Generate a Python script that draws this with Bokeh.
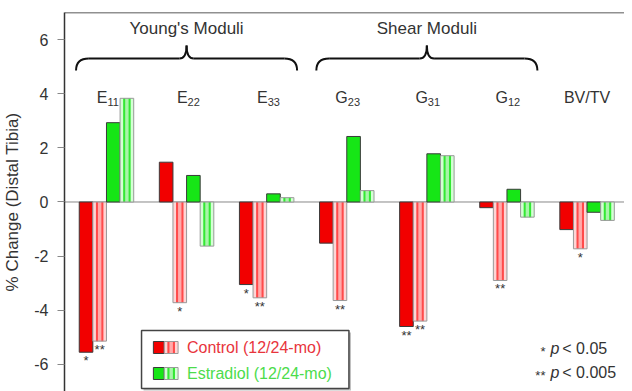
from bokeh.plotting import figure
from bokeh.models import ColumnDataSource, FixedTicker, Span, Range1d, Label
from bokeh.embed import file_html
from bokeh.resources import INLINE
from bokeh.core.properties import value

# ---------------- data ----------------
categories = ["E11", "E22", "E33", "G23", "G31", "G12", "BV/TV"]
cat_main = ["E", "E", "E", "G", "G", "G", "BV/TV"]
cat_sub = ["11", "22", "33", "23", "31", "12", ""]

control_12 = [-5.55, 1.47, -3.05, -1.52, -4.60, -0.21, -1.02]
control_24 = [-5.14, -3.72, -3.54, -3.64, -4.40, -2.90, -1.73]
estradiol_12 = [2.93, 0.98, 0.30, 2.42, 1.78, 0.47, -0.38]
estradiol_24 = [3.83, -1.63, 0.16, 0.42, 1.71, -0.56, -0.68]

control_12_sig = ["*", "", "*", "", "**", "", ""]
control_24_sig = ["**", "*", "**", "**", "**", "**", "*"]

y_ticks = [-6, -4, -2, 0, 2, 4, 6]
y_tick_labels = ["-6", "-4", "-2", "0", "2", "4", "6"]
group_headers = ["Young's Moduli", "Shear Moduli"]
group_spans = [(0, 2), (3, 5)]
legend_labels = ["Control (12/24-mo)", "Estradiol (12/24-mo)"]
pvalue_marks = ["*", "**"]
pvalue_texts = ["< 0.05", "< 0.005"]

# ---------------- styles / layout ----------------
RED = "#f20000"
RED_PALE = "#ffd4d4"
RED_MID = "#ffaaaa"
RED_STRIPE = "#ff4a4a"
GREEN = "#16e616"
GREEN_PALE = "#d4ffd4"
GREEN_MID = "#a8f5a8"
GREEN_STRIPE = "#33e833"
TXT = "#333333"
FONT = "Liberation Sans"

PX_PER_X, PX_PER_Y = 81.1, 27.07
FRAME_H = 379
X_START, Y_END = -0.024, 7.0
Y_START = Y_END - FRAME_H / PX_PER_Y
X_END = X_START + 567 / PX_PER_X
W = 0.17


def dx(px):
    return X_START + (px - 65) / PX_PER_X


def dy(py):
    return Y_END - (py - 12) / PX_PER_Y


p = figure(width=624, height=391, x_range=Range1d(X_START, X_END),
           y_range=Range1d(Y_START, Y_END), output_backend="svg",
           toolbar_location=None, x_axis_location=None,
           min_border_left=57, min_border_right=0, min_border_top=12,
           min_border_bottom=0)
p.outline_line_color = None
p.grid.visible = False
p.background_fill_color = "white"

ax = p.yaxis[0]
ax.ticker = FixedTicker(ticks=y_ticks)
ax.major_label_overrides = {t: lab for t, lab in zip(y_ticks, y_tick_labels)}
ax.major_tick_in = 0
ax.major_tick_out = 7
ax.minor_tick_line_color = None
ax.major_tick_line_color = "#888888"
ax.axis_line_color = "#333333"
ax.axis_line_width = 1.5
ax.major_label_standoff = 9
ax.major_label_text_font = FONT
ax.major_label_text_font_size = "16px"
ax.major_label_text_color = TXT
ax.axis_label = "% Change (Distal Tibia)"
ax.axis_label_text_font = FONT
ax.axis_label_text_font_size = "17px"
ax.axis_label_text_font_style = "normal"
ax.axis_label_text_color = TXT
ax.axis_label_standoff = 9

p.add_layout(Span(location=0, dimension="width", line_color="#888888",
                  line_width=1, level="underlay"))
p.add_layout(Span(location=Y_END, dimension="width", line_color="#222222",
                  line_width=1.5))

centers = [i + 0.5 for i in range(len(categories))]
offsets = [-1.5 * W, -0.5 * W, 0.5 * W, 1.5 * W]


def xs(k):
    return [c + offsets[k] for c in centers]


def solid(xv, top, bottom, color, width=W):
    p.vbar(x=xv, top=top, bottom=bottom, width=width, fill_color=color,
           line_color="#3a3a3a", line_width=1)


def striped(xv, top, bottom, pale, mid, stripe, width=W):
    p.vbar(x=xv, top=top, bottom=bottom, width=width, fill_color=pale,
           line_color=None)
    p.vbar(x=xv, top=top, bottom=bottom, width=0.4 * width, fill_color=mid,
           line_color=None)
    for s in (-0.2, 0.2):
        p.vbar(x=[x + s * width for x in xv], top=top, bottom=bottom,
               width=0.15 * width, fill_color=stripe, line_color=None)
    p.vbar(x=xv, top=top, bottom=bottom, width=width, fill_color=None,
           line_color="#999999", line_width=1)


zeros = [0] * len(categories)
solid(xs(0), control_12, zeros, RED)
striped(xs(1), control_24, zeros, RED_PALE, RED_MID, RED_STRIPE)
solid(xs(2), estradiol_12, zeros, GREEN)
striped(xs(3), estradiol_24, zeros, GREEN_PALE, GREEN_MID, GREEN_STRIPE)

# significance marks
sig_src = ColumnDataSource(dict(
    x=xs(0) + xs(1), y=control_12 + control_24,
    t=control_12_sig + control_24_sig))
p.text(x="x", y="y", text="t", source=sig_src, text_align="center",
       text_baseline="top", y_offset=1, text_font=value(FONT),
       text_font_size="13px", text_color=TXT)

# category labels
lab_y = dy(97)
main_sub = [(c, m, s) for c, m, s in zip(centers, cat_main, cat_sub) if s]
p.text(x=[c for c, _, _ in main_sub], y=[lab_y] * len(main_sub),
       text=[m for _, m, _ in main_sub], text_align="right",
       text_baseline="alphabetic", x_offset=1, text_font=value(FONT),
       text_font_size="16px", text_color=TXT)
p.text(x=[c for c, _, _ in main_sub], y=[lab_y] * len(main_sub),
       text=[s for _, _, s in main_sub], text_align="left",
       text_baseline="alphabetic", x_offset=1, y_offset=4,
       text_font=value(FONT), text_font_size="11px", text_color=TXT)
plain = [(c, m) for c, m, s in zip(centers, cat_main, cat_sub) if not s]
p.text(x=[c for c, _ in plain], y=[lab_y] * len(plain),
       text=[m for _, m in plain], text_align="center",
       text_baseline="alphabetic", text_font=value(FONT),
       text_font_size="16px", text_color=TXT)

# group headers and braces
y_end_b, y_mid_b, y_tip_b = dy(70), dy(58), dy(45)
hook, tipd = 0.16, 0.09
for name, (a, b) in zip(group_headers, group_spans):
    x0 = a + 0.12
    x1 = b + 0.88
    xc = (a + b + 1) / 2
    p.text(x=[xc], y=[dy(28)], text=[name], text_align="center",
           text_baseline="middle", text_font=value(FONT),
           text_font_size="17px", text_color=TXT)
    p.quadratic(x0=[x0, x1], y0=[y_end_b, y_end_b],
                x1=[x0 + hook, x1 - hook], y1=[y_mid_b, y_mid_b],
                cx=[x0, x1], cy=[y_mid_b, y_mid_b],
                line_color="#111111", line_width=2)
    p.segment(x0=[x0 + hook, xc + tipd], y0=[y_mid_b, y_mid_b],
              x1=[xc - tipd, x1 - hook], y1=[y_mid_b, y_mid_b],
              line_color="#111111", line_width=2)
    p.quadratic(x0=[xc - tipd, xc + tipd], y0=[y_mid_b, y_mid_b],
                x1=[xc, xc], y1=[y_tip_b, y_tip_b],
                cx=[xc, xc], cy=[y_mid_b, y_mid_b],
                line_color="#111111", line_width=2)

# legend (layout in pixel positions converted to data space)
p.quad(left=[dx(145)], right=[dx(355)], top=[dy(332)], bottom=[dy(390)],
       fill_color="#bbbbbb", line_color=None)
p.quad(left=[dx(143)], right=[dx(353)], top=[dy(330)], bottom=[dy(388)],
       fill_color="white", line_color="#444444", line_width=1.5)
rows = [(347, RED, RED_PALE, RED_MID, RED_STRIPE, "#e8343c"),
        (373, GREEN, GREEN_PALE, GREEN_MID, GREEN_STRIPE, "#4cdc4c")]
for label, (cy_px, c, pale, mid, stripe, tcol) in zip(legend_labels, rows):
    top, bot = dy(cy_px - 6), dy(cy_px + 6)
    p.quad(left=[dx(155)], right=[dx(166)], top=[top], bottom=[bot],
           fill_color=c, line_color="#3a3a3a", line_width=1)
    striped([dx(173)], [top], [bot], pale, mid, stripe, width=14 / PX_PER_X)
    p.add_layout(Label(x=dx(189), y=dy(cy_px), text=label,
                       text_baseline="middle", text_align="left",
                       text_font=FONT, text_font_size="16px",
                       text_color=tcol))

# p-value key
for mark, txt, cy_px in zip(pvalue_marks, pvalue_texts, (348, 372)):
    p.add_layout(Label(x=dx(552), y=dy(cy_px), text=mark, text_align="right",
                       text_baseline="middle", y_offset=-3, text_font=FONT,
                       text_font_size="13px", text_color=TXT))
    p.add_layout(Label(x=dx(557), y=dy(cy_px), text="p", text_align="left",
                       text_baseline="middle", text_font=FONT,
                       text_font_style="italic", text_font_size="16px",
                       text_color=TXT))
    p.add_layout(Label(x=dx(569), y=dy(cy_px), text=txt, text_align="left",
                       text_baseline="middle", text_font=FONT,
                       text_font_size="16px", text_color=TXT))

open("out.html", "w").write(file_html(p, INLINE))
